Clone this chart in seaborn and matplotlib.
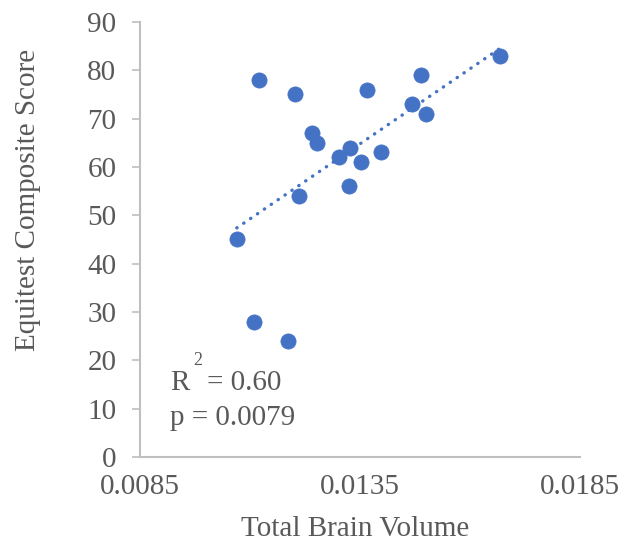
import numpy as np
import pandas as pd
import matplotlib
matplotlib.use("Agg")
import matplotlib.pyplot as plt
import seaborn as sns

# ---- data ----
brain_volume = [0.01070, 0.01121, 0.01108, 0.01187, 0.01203, 0.01211, 0.01240,
                0.01252, 0.01302, 0.01328, 0.01326, 0.01352, 0.01367, 0.01398,
                0.01468, 0.01488, 0.01501, 0.01669]
equitest_score = [45, 78, 28, 24, 75, 54, 67, 65, 62, 64, 56, 61, 76, 63,
                  73, 79, 71, 83]
trend_x = [0.01070, 0.01669]
trend_y = [47.4, 84.6]
x_ticks = [0.0085, 0.0135, 0.0185]
x_tick_labels = ["0.0085", "0.0135", "0.0185"]
y_ticks = [0, 10, 20, 30, 40, 50, 60, 70, 80, 90]
r2_text = "= 0.60"
p_text = "p = 0.0079"

sns.set_theme(style="white")
plt.rcParams['font.family'] = ['Liberation Serif', 'DejaVu Serif']

df = pd.DataFrame({"x": brain_volume, "y": equitest_score})

fig = plt.figure(figsize=(6.34, 5.46), dpi=100)
ax = fig.add_axes([140/634, 89/546, 440/634, 435/546])

blue = "#4472C4"
grey = "#BFBFBF"
txt = "#595959"

sns.scatterplot(data=df, x="x", y="y", ax=ax, s=120, color=blue,
                edgecolor=blue, linewidth=0.5, zorder=3)
sns.lineplot(x=trend_x, y=trend_y, ax=ax, color=blue, linewidth=2.4,
             linestyle=(0, (0.1, 2.4)), dash_capstyle='round', zorder=2)

ax.set_xlim(0.0085, 0.0185)
ax.set_ylim(0, 90)
ax.set_xticks(x_ticks)
ax.set_xticklabels(x_tick_labels)
ax.set_yticks(y_ticks)

for s in ["top", "right"]:
    ax.spines[s].set_visible(False)
for s in ["left", "bottom"]:
    ax.spines[s].set_color(grey)
    ax.spines[s].set_linewidth(1.5)

ax.tick_params(axis='y', which='both', left=True, length=6, width=1.2,
               color=grey, pad=11, labelsize=21, labelcolor=txt)
ax.tick_params(axis='x', which='both', bottom=False, length=0, pad=12,
               labelsize=21, labelcolor=txt)

ax.set_xlabel("Total Brain Volume", fontsize=21, color=txt)
ax.xaxis.set_label_coords(0.49, -0.135)
ax.set_ylabel("Equitest Composite Score", fontsize=21, color=txt)
ax.yaxis.set_label_coords(-0.226, 0.59)

ax.text(0.00918, 13.9, "R", fontsize=21, color=txt, va='baseline', ha='left')
ax.text(0.00972, 19.0, "2", fontsize=13, color=txt, va='baseline', ha='left')
ax.text(0.01002, 13.9, r2_text, fontsize=21, color=txt, va='baseline', ha='left')
ax.text(0.00918, 6.6, p_text, fontsize=21, color=txt, va='baseline', ha='left')

fig.savefig("out.png", dpi=100)
